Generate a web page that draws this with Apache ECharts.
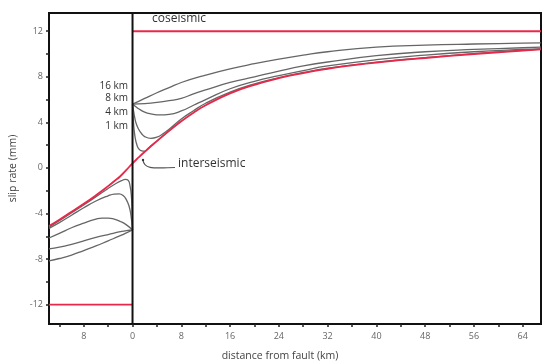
<!DOCTYPE html>
<html>
<head>
<meta charset="utf-8">
<script src="https://cdn.jsdelivr.net/npm/echarts@6/dist/echarts.min.js"></script>
<style>
  html, body { margin: 0; padding: 0; background: #fff; }
  #chart { width: 542px; height: 362px; }
</style>
</head>
<body>
<div id="chart"></div>
<script>
// axis extents (km, mm)
const xMin = -13.7;
const xMax = 67;
const yMin = -13.7;
const yMax = 13.6;

const xTicks = [-12, -8, -4, 0, 4, 8, 12, 16, 20, 24, 28, 32, 36, 40, 44, 48, 52, 56, 60, 64];
const xLabels = [-8, 0, 8, 16, 24, 32, 40, 48, 56, 64];
const yTicks = [-12, -10, -8, -6, -4, -2, 0, 2, 4, 6, 8, 10, 12];
const yLabels = [-12, -8, -4, 0, 4, 8, 12];

// coseismic step
const coseismicLeft = [[-13.7, -12], [0, -12]];
const coseismicRight = [[0, 12], [67, 12]];

// interseismic profile
const interseismic = [
  [-13.7, -5.1], [-12, -4.55], [-10, -3.85], [-8, -3.15], [-6, -2.4], [-4, -1.6],
  [-3, -1.17], [-2, -0.73], [-1, -0.17], [0, 0.4], [1, 0.92], [2, 1.42], [3, 1.9], [4, 2.35],
  [6, 3.25], [8, 4.1], [10, 4.85], [12, 5.5], [16, 6.55], [20, 7.3], [24, 7.88],
  [28, 8.33], [32, 8.7], [36, 9.0], [40, 9.25], [48, 9.65], [56, 10.0], [64, 10.3], [67, 10.4]
];

// postseismic profiles, left of the fault
const left16 = [[-13.7, -8.15], [-12, -7.95], [-10, -7.65], [-8, -7.25], [-6, -6.85], [-4, -6.4], [-2, -5.95], [-1, -5.7], [0, -5.45]];
const left8 = [[-13.7, -7.1], [-12, -6.95], [-10, -6.7], [-8, -6.4], [-6, -6.1], [-4, -5.85], [-2, -5.6], [-1, -5.5], [0, -5.45]];
const left4 = [[-13.7, -6.15], [-12, -5.75], [-10, -5.25], [-8, -4.85], [-6, -4.5], [-5, -4.4], [-4, -4.4], [-3, -4.5], [-2, -4.7], [-1, -5.0], [0, -5.45]];
const left2 = [[-13.7, -5.3], [-12, -4.8], [-10, -4.15], [-8, -3.5], [-6, -2.9], [-4, -2.45], [-3, -2.3], [-2.2, -2.28], [-1.5, -2.45], [-1, -2.8], [-0.6, -3.3], [-0.3, -4.0], [0, -5.45]];
const left1 = [[-13.7, -5.2], [-8, -3.25], [-4, -1.8], [-2.5, -1.3], [-1.8, -1.12], [-1.2, -1.0], [-0.7, -1.1], [-0.4, -1.6], [-0.2, -2.4], [-0.08, -3.5], [0, -5.45]];

// postseismic profiles, right of the fault
const right16 = [[0, 5.6], [1, 5.85], [2, 6.1], [4, 6.6], [6, 7.05], [8, 7.5], [12, 8.15], [16, 8.7], [20, 9.15], [24, 9.55], [28, 9.9], [32, 10.2], [40, 10.6], [48, 10.78], [56, 10.88], [64, 10.95], [67, 10.97]];
const right8 = [[0, 5.6], [2, 5.65], [4, 5.75], [6, 5.9], [8, 6.1], [10, 6.5], [12, 6.85], [16, 7.5], [20, 8.0], [24, 8.5], [28, 8.95], [32, 9.3], [40, 9.85], [48, 10.2], [56, 10.4], [64, 10.55], [67, 10.6]];
const right4 = [[0, 5.6], [0.5, 5.4], [1, 5.2], [2, 4.9], [3, 4.75], [4.5, 4.65], [6, 4.7], [8, 5.0], [10, 5.5], [12, 6.0], [16, 6.95], [20, 7.6], [24, 8.1], [28, 8.55], [32, 8.95], [40, 9.5], [48, 9.9], [56, 10.2], [64, 10.4], [67, 10.45]];
const right2 = [[0, 5.6], [0.3, 4.6], [0.6, 3.9], [1, 3.4], [1.5, 3.0], [2, 2.75], [3, 2.6], [4, 2.7], [5, 3.0], [6, 3.4], [8, 4.3], [10, 5.02], [12, 5.68], [16, 6.65], [20, 7.38], [24, 7.93], [28, 8.38], [32, 8.75], [40, 9.28], [48, 9.68], [56, 10.03], [64, 10.33], [67, 10.43]];
const right1 = [[0, 5.6], [0.1, 4.5], [0.25, 3.4], [0.45, 2.6], [0.7, 2.05], [1, 1.7], [1.5, 1.5], [2, 1.47], [2.5, 1.65], [3, 1.92], [4, 2.37], [6, 3.27], [8, 4.12]];

const depthLabels = ['16 km', '8 km', '4 km', '1 km'];
const depthLabelY = [88, 100, 114, 128];

const gray = '#666666';
const red = '#e8284a';
const font = '"Open Sans", sans-serif';

const chart = echarts.init(document.getElementById('chart'));

function grayLine(data) {
  return {
    type: 'line', data: data, showSymbol: false, smooth: true,
    lineStyle: { color: gray, width: 1.3 }, z: 2, silent: true
  };
}

const options = {
  animation: false,
  grid: {
    left: 49, right: 1, top: 13, bottom: 38, outerBoundsMode: 'none', containLabel: false,
    show: true, borderColor: '#111', borderWidth: 2, backgroundColor: '#fff'
  },
  xAxis: {
    type: 'value', min: xMin, max: xMax,
    name: 'distance from fault (km)', nameLocation: 'middle', nameGap: 27,
    nameTextStyle: { fontFamily: font, fontSize: 10.5, color: '#444', padding: [0, 30, 0, 0] },
    axisLine: { show: true, onZero: false, lineStyle: { color: '#111', width: 2 } },
    axisTick: { show: true, customValues: xTicks, length: 3, lineStyle: { color: '#222', width: 1.5 } },
    axisLabel: {
      customValues: xLabels, margin: 8, fontFamily: font, fontSize: 9, color: '#666',
      formatter: v => String(Math.abs(v))
    },
    splitLine: { show: false }
  },
  yAxis: {
    type: 'value', min: yMin, max: yMax,
    name: 'slip rate (mm)', nameLocation: 'middle', nameGap: 25, nameRotate: 90,
    nameTextStyle: { fontFamily: font, fontSize: 10.5, color: '#444' },
    axisLine: { show: true, onZero: false, lineStyle: { color: '#111', width: 2 } },
    axisTick: { show: true, customValues: yTicks, length: 3, lineStyle: { color: '#222', width: 1.5 } },
    axisLabel: { customValues: yLabels, margin: 6, fontFamily: font, fontSize: 9, color: '#666' },
    splitLine: { show: false }
  },
  series: [
    grayLine(left16), grayLine(left8), grayLine(left4), grayLine(left2), grayLine(left1),
    grayLine(right16), grayLine(right8), grayLine(right4), grayLine(right2), grayLine(right1),
    {
      type: 'line', data: interseismic, showSymbol: false, smooth: true,
      lineStyle: { color: red, width: 1.8 }, z: 3
    },
    { type: 'line', data: coseismicLeft, showSymbol: false, lineStyle: { color: red, width: 1.8 }, z: 3 },
    { type: 'line', data: coseismicRight, showSymbol: false, lineStyle: { color: red, width: 1.8 }, z: 3 },
    {
      type: 'line', data: [[0, yMin], [0, yMax]], showSymbol: false,
      lineStyle: { color: '#111', width: 2 }, z: 4
    }
  ],
  graphic: [
    { type: 'text', left: 152, top: 13, style: { text: 'coseismic', font: '12px ' + font, fill: '#333' } },
    { type: 'text', left: 178, top: 158, style: { text: 'interseismic', font: '12px ' + font, fill: '#333' } },
    {
      type: 'bezierCurve',
      shape: { x1: 143, y1: 160, cpx1: 144, cpy1: 170, cpx2: 156, cpy2: 168, x2: 175, y2: 167.5 },
      style: { stroke: '#555', lineWidth: 1.2, fill: null }
    },
    { type: 'circle', shape: { cx: 143, cy: 160, r: 1.2 }, style: { fill: '#333' } }
  ].concat(depthLabels.map((t, i) => ({
    type: 'text', right: 542 - 128, top: depthLabelY[i] - 7,
    style: { text: t, font: '10px ' + font, fill: '#333', align: 'right' }
  })))
};

chart.setOption(options);
</script>
</body>
</html>
